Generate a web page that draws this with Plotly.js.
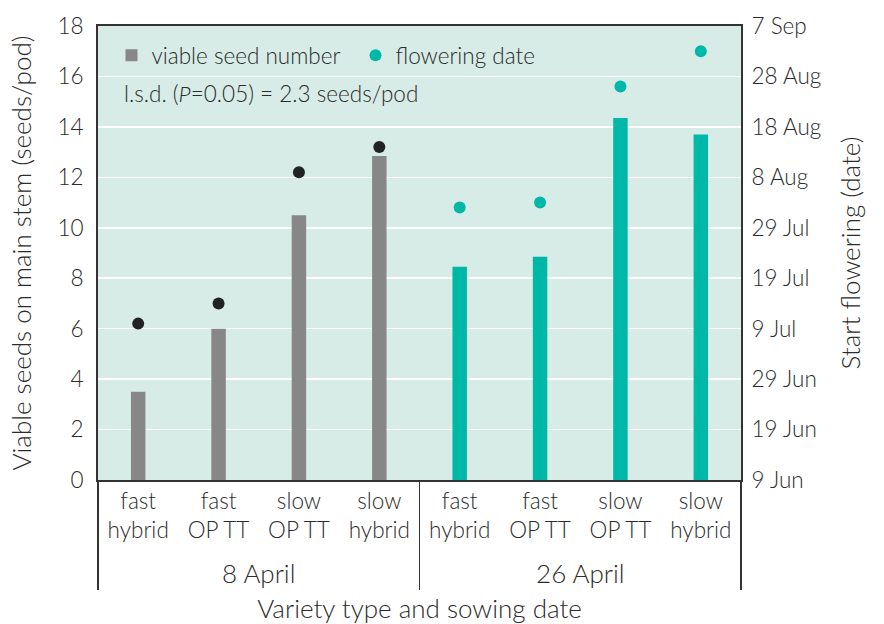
<!DOCTYPE html>
<html><head><meta charset="utf-8">
<script src="https://cdn.plot.ly/plotly-3.0.1.min.js"></script>
<style>html,body{margin:0;padding:0;background:#fff}</style>
</head><body><div id="chart" style="width:884px;height:624px"></div>
<script>
// ---- data ----
const sowingDates = ['8 April','8 April','8 April','8 April','26 April','26 April','26 April','26 April'];
const varieties = ['fast<br>hybrid','fast<br>OP TT','slow<br>OP TT','slow<br>hybrid','fast<br>hybrid','fast<br>OP TT','slow<br>OP TT','slow<br>hybrid'];
const viableSeeds = [3.5, 6.0, 10.5, 12.85, 8.45, 8.85, 14.35, 13.7];
const floweringDate = ['2017-07-10','2017-07-14','2017-08-09','2017-08-14','2017-08-02','2017-08-03','2017-08-26','2017-09-02'];
const dateAxisStart = '2017-06-09';
const dateAxisEnd = '2017-09-07';
const lsdText = 'l.s.d. (<i>P</i>=0.05) = 2.3 seeds/pod';

// ---- styles ----
const GRAY = '#878787', TEAL = '#00b8a7', BLACK = '#222222', TXT = '#2b2b2b';
const FONT = 'Lato, "Open Sans", sans-serif';
const TICK = 22.5, TITLE = 26;
const groupColor = {'8 April': {bar: GRAY, dot: BLACK}, '26 April': {bar: TEAL, dot: TEAL}};
// group label shown larger and shifted a little lower
const groupLabel = d => '<span style="font-size:' + TITLE + 'px;baseline-shift:-16px">' + d + '</span>';
const groupLabels = sowingDates.map(groupLabel);

const idxEarly = sowingDates.map((d,i)=>i).filter(i=>sowingDates[i]==='8 April');
const idxLate = sowingDates.map((d,i)=>i).filter(i=>sowingDates[i]==='26 April');
const pick = (arr, idx) => idx.map(i=>arr[i]);

const traces = [
  {
    type: 'bar', name: 'viable seed number',
    x: [groupLabels, varieties], y: viableSeeds,
    marker: {color: sowingDates.map(d=>groupColor[d].bar)},
    width: 0.18, hoverinfo: 'y'
  },
  {
    type: 'scatter', mode: 'markers', name: 'flowering date (8 April)', showlegend: false,
    x: [pick(groupLabels, idxEarly), pick(varieties, idxEarly)], y: pick(floweringDate, idxEarly),
    yaxis: 'y2', marker: {color: BLACK, size: 12}
  },
  {
    type: 'scatter', mode: 'markers', name: 'flowering date',
    x: [pick(groupLabels, idxLate), pick(varieties, idxLate)], y: pick(floweringDate, idxLate),
    yaxis: 'y2', marker: {color: TEAL, size: 12}
  }
];

const layout = {
  width: 884, height: 624,
  margin: {l: 98, r: 143, t: 26, b: 144},
  paper_bgcolor: '#ffffff', plot_bgcolor: '#d7ece6',
  font: {family: FONT, size: TICK, color: TXT, weight: 300},
  showlegend: true,
  legend: {orientation: 'h', x: 0.021, y: 0.982, xanchor: 'left', yanchor: 'top',
           bgcolor: 'rgba(0,0,0,0)', font: {size: TICK, color: TXT, weight: 300}, entrywidth: 199},
  xaxis: {
    type: 'multicategory', showdividers: true, dividercolor: '#333', dividerwidth: 1.5,
    showline: true, linecolor: '#333', linewidth: 2, mirror: true,
    ticks: '', tickfont: {size: TICK, color: TXT, weight: 300}, showgrid: false,
    title: {text: 'Variety type and sowing date', font: {size: TITLE, color: TXT, weight: 300}, standoff: 12}
  },
  yaxis: {
    range: [0, 18], dtick: 2, tick0: 0, showgrid: true, gridcolor: '#ffffff', gridwidth: 1.5,
    zeroline: false, showline: true, linecolor: '#333', linewidth: 2, ticks: '',
    tickfont: {size: TICK, color: TXT, weight: 300}, ticklabelstandoff: 8,
    title: {text: 'Viable seeds on main stem (seeds/pod)', font: {size: TITLE, color: TXT, weight: 300}, standoff: 18}
  },
  yaxis2: {
    type: 'date', overlaying: 'y', side: 'right', range: [dateAxisStart, dateAxisEnd],
    tick0: dateAxisStart, dtick: 10*86400000, tickformat: '%-d %b', showgrid: false,
    zeroline: false, showline: true, linecolor: '#333', linewidth: 2, ticks: '',
    tickfont: {size: TICK, color: TXT, weight: 300}, ticklabelstandoff: 4,
    title: {text: 'Start flowering (date)', font: {size: TITLE, color: TXT, weight: 300}, standoff: 22}
  },
  annotations: [
    {xref: 'paper', yref: 'paper', x: 0.038, y: 0.852, xanchor: 'left', yanchor: 'middle',
     text: lsdText, showarrow: false, font: {size: TICK, color: TXT, weight: 300}}
  ]
};

Plotly.newPlot('chart', traces, layout, {displayModeBar: false, staticPlot: true});
</script></body></html>
